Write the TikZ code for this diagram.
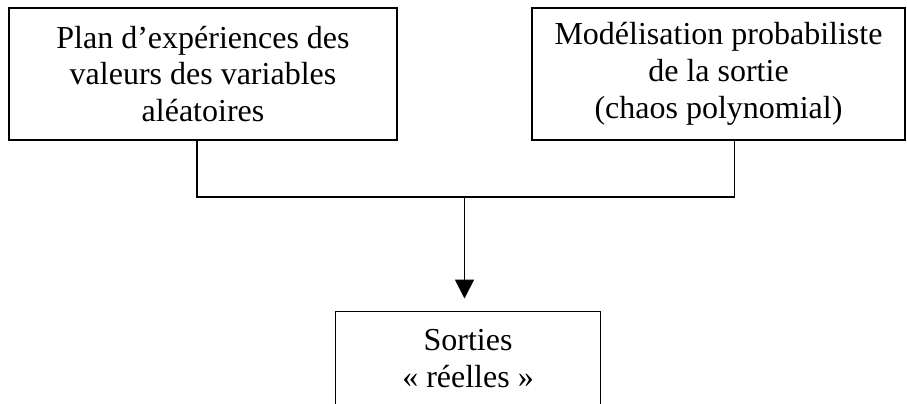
\documentclass[tikz,border=0pt]{standalone}
\usepackage{fontspec}
\setmainfont{Liberation Serif}
\usepackage{tikz}
\usetikzlibrary{positioning, arrows.meta}

\begin{document}
\begin{tikzpicture}[x=0.5pt, y=-0.5pt, line width=0.9pt,
    every node/.style={font=\fontsize{16}{18.4}\selectfont},
    box/.style={draw, rectangle, align=center, inner sep=0pt, line width=0.9pt}]
            \useasboundingbox (0,0) rectangle (907,403);
            % Boxes
            \node[box, minimum width=194pt, minimum height=66pt] (plan) at (203,74) {Plan d'expériences des\\valeurs des variables\\aléatoires};
            
            \node[box, minimum width=186.5pt, minimum height=66pt] (modele) at (718.5,74) {Modélisation probabiliste\\de la sortie\\(chaos polynomial)};
            
            \node[box, anchor=north, minimum width=132.5pt, minimum height=47pt] (sorties) at (468,310.5) {Sorties\\« réelles »};
            
            \coordinate (junction) at (464.5,197);
            
            % Arrows
            \draw ([xshift=-3pt]plan.south) |- (junction) -| ([xshift=8pt]modele.south);
            \draw[-{Triangle[length=9.5pt, width=9.5pt]}, shorten >=6pt] (junction) -- (junction |- sorties.north);
        \end{tikzpicture}
\end{document}
